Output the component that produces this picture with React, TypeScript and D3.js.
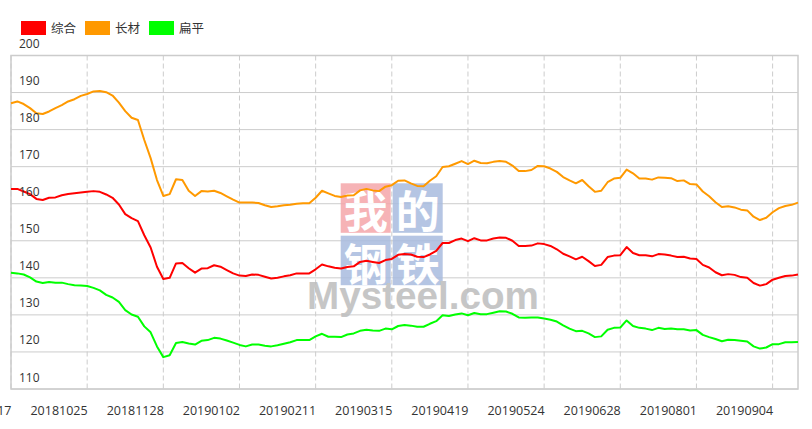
import { useEffect, useRef } from "react";
import * as d3 from "d3";

// x tick labels, one every 24 trading days
const dateLabels = [
  "20180917", "20181025", "20181128", "20190102", "20190211", "20190315",
  "20190419", "20190524", "20190628", "20190801", "20190904",
];

const seriesNames = ["综合", "长材", "扁平"];
const seriesColors = ["#ff0000", "#ff9900", "#00ff00"];

// values read every 2nd trading day
const zongheValues = [
  164, 164, 163.3, 162.6, 161.3, 161, 161.6, 161.7, 162.3, 162.6,
  162.8, 163, 163.2, 163.4, 163.2, 162.5, 161.6, 159.8, 157.2, 156.1,
  155.3, 151.5, 148.2, 143, 139.7, 140, 143.9, 144, 142.6, 141.4,
  142.5, 142.6, 143.4, 143, 142.1, 141.2, 140.6, 140.5, 140.9, 140.8,
  140.3, 139.8, 140, 140.4, 140.7, 141.2, 141.2, 141.2, 142.3, 143.6,
  143.1, 142.7, 142.5, 142.9, 143.1, 144.3, 144.6, 144.3, 144, 144.8,
  145.1, 146.2, 146.4, 146.3, 145.7, 145.6, 146.3, 147.3, 149.4, 149.4,
  150.2, 150.6, 149.9, 150.7, 150.1, 150.1, 150.6, 150.9, 150.8, 150,
  148.6, 148.6, 148.7, 149.3, 149.1, 148.6, 147.7, 146.5, 145.8, 145,
  145.7, 144.5, 143.2, 143.5, 145.6, 146, 146.1, 148.3, 146.7, 146.1,
  146.1, 145.8, 146.4, 146.3, 146, 145.6, 145.7, 145.2, 145.1, 143.5,
  142.8, 141.5, 140.7, 141, 140.8, 140.2, 140, 138.6, 137.9, 138.3,
  139.5, 140, 140.5, 140.6, 140.9,
];

const changcaiValues = [
  187.1, 187.6, 186.9, 185.8, 184.4, 184.2, 184.9, 185.8, 186.6, 187.6,
  188.2, 189.1, 189.6, 190.3, 190.4, 190.1, 189.2, 187.3, 185, 183.2,
  182.6, 177.2, 172.3, 166.4, 162.1, 162.6, 166.6, 166.4, 163.5, 162.1,
  163.4, 163.3, 163.5, 162.9, 162, 161.1, 160.3, 160.3, 160.3, 160.2,
  159.6, 159.1, 159.3, 159.6, 159.7, 160, 160.1, 160.1, 161.6, 163.5,
  162.8, 162.1, 161.8, 162.2, 162.3, 163.6, 164, 163.6, 163.4, 164.6,
  165, 166.2, 166.3, 165.5, 164.8, 164.7, 166.2, 167.4, 169.9, 170.1,
  170.8, 171.5, 170.7, 171.6, 171, 170.9, 171.3, 171.5, 171.3, 170.3,
  168.8, 168.8, 169.1, 170.2, 170.1, 169.5, 168.6, 167.2, 166.3, 165.5,
  166.4, 164.7, 163.2, 163.5, 165.8, 166.8, 167, 169.2, 168.2, 166.8,
  166.8, 166.5, 167.1, 167, 166.9, 166.1, 166.3, 165.3, 165.2, 163.3,
  162, 160.4, 159.1, 159.3, 159, 158.4, 158.2, 156.5, 155.6, 156.2,
  157.7, 158.8, 159.4, 159.7, 160.3,
];

const bianpingValues = [
  141.4, 141.2, 140.9, 140.1, 139, 138.6, 138.9, 138.7, 138.7, 138.3,
  138, 137.9, 137.8, 137.3, 136.6, 135.4, 134.7, 133.5, 131.3, 130.1,
  129.5, 126.9, 125.3, 121.5, 118.6, 119.1, 122.4, 122.7, 122.3, 122,
  123, 123.2, 123.8, 123.6, 123.1, 122.5, 121.9, 121.5, 122, 122,
  121.7, 121.5, 121.8, 122.2, 122.6, 123.2, 123.2, 123.2, 124.2, 124.9,
  124.1, 124.1, 124, 124.7, 125, 125.7, 126, 125.8, 125.7, 126.3,
  126.1, 127, 127.3, 127.1, 126.8, 126.8, 127.6, 128.3, 129.9, 129.7,
  130.1, 130.4, 129.9, 130.5, 130.2, 130.2, 130.6, 131, 130.9, 130.3,
  129.3, 129.2, 129.3, 129.3, 129, 128.7, 128.2, 127.2, 126.3, 125.6,
  125.7, 125, 124, 124.2, 126, 126.5, 126.6, 128.5, 127, 126.5,
  126.3, 125.9, 126.5, 126.2, 126.3, 126.1, 126.1, 125.8, 125.9, 124.6,
  124, 123.5, 122.9, 123.3, 123.2, 123, 122.8, 121.5, 120.9, 121.2,
  122.1, 122.1, 122.6, 122.6, 122.7,
];

const yTicks = [110, 120, 130, 140, 150, 160, 170, 180, 190, 200];

const FONT = "'Open Sans', 'Noto Sans CJK SC', sans-serif";

const SteelIndexChart = () => {
  const svgRef = useRef<SVGSVGElement>(null);

  useEffect(() => {
    if (!svgRef.current) return;
    const svg = d3.select(svgRef.current);
    svg.selectAll("*").remove();

    const width = 812;
    const height = 429;
    const plot = { left: 11, right: 798, top: 55.5, bottom: 389 };
    const stride = 2; // trading days between stored values
    const tickEvery = 24;
    const lastIndex = (zongheValues.length - 1) * stride;

    svg.attr("width", width).attr("height", height);

    const x = d3.scaleLinear().domain([0, lastIndex]).range([plot.left, plot.right]);
    const y = d3.scaleLinear().domain([110, 200]).range([plot.bottom, plot.top]);

    // horizontal grid
    svg
      .append("g")
      .selectAll("line")
      .data(yTicks.slice(0, -1))
      .join("line")
      .attr("x1", plot.left)
      .attr("x2", plot.right)
      .attr("y1", (d) => y(d))
      .attr("y2", (d) => y(d))
      .attr("stroke", "#cccccc")
      .attr("stroke-width", 1);

    // vertical dashed grid
    svg
      .append("g")
      .selectAll("line")
      .data(dateLabels)
      .join("line")
      .attr("x1", (_, i) => x(i * tickEvery))
      .attr("x2", (_, i) => x(i * tickEvery))
      .attr("y1", plot.top)
      .attr("y2", plot.bottom)
      .attr("stroke", "#cccccc")
      .attr("stroke-dasharray", "5,3");

    // plot border
    svg
      .append("rect")
      .attr("x", plot.left)
      .attr("y", plot.top)
      .attr("width", plot.right - plot.left)
      .attr("height", plot.bottom - plot.top)
      .attr("fill", "none")
      .attr("stroke", "#cccccc")
      .attr("stroke-width", 1.5);

    // watermark
    const wm = svg.append("g").attr("opacity", 0.85);
    const boxes = [
      { ch: "我", bx: 340.7, by: 183.3, fill: "#f5a6aa" },
      { ch: "的", bx: 392.7, by: 183.3, fill: "#a9bcdf" },
      { ch: "钢", bx: 340.7, by: 235.7, fill: "#a9bcdf" },
      { ch: "铁", bx: 392.7, by: 235.7, fill: "#a9bcdf" },
    ];
    boxes.forEach((b) => {
      wm.append("rect")
        .attr("x", b.bx)
        .attr("y", b.by)
        .attr("width", 50)
        .attr("height", 49.5)
        .attr("fill", b.fill);
      wm.append("text")
        .attr("x", b.bx + 25)
        .attr("y", b.by + 26)
        .attr("text-anchor", "middle")
        .attr("dominant-baseline", "central")
        .attr("font-family", "'Noto Sans CJK SC', sans-serif")
        .attr("font-weight", "bold")
        .attr("font-size", 44)
        .attr("fill", "#ffffff")
        .text(b.ch);
    });
    wm.append("text")
      .attr("x", 307)
      .attr("y", 308.5)
      .attr("font-family", "'Liberation Sans', Arial, sans-serif")
      .attr("font-weight", "bold")
      .attr("font-size", 39)
      .attr("textLength", 232)
      .attr("lengthAdjust", "spacingAndGlyphs")
      .attr("fill", "#bdbdbd")
      .text("Mysteel.com");

    // lines
    const allSeries = [zongheValues, changcaiValues, bianpingValues];
    const line = d3
      .line<number>()
      .x((_, i) => x(i * stride))
      .y((d) => y(d));
    svg
      .append("g")
      .selectAll("path")
      .data(allSeries)
      .join("path")
      .attr("d", (d) => line(d))
      .attr("fill", "none")
      .attr("stroke", (_, i) => seriesColors[i])
      .attr("stroke-width", 2)
      .attr("stroke-linejoin", "round");

    // y labels sit inside the plot, just above their gridline
    svg
      .append("g")
      .selectAll("text")
      .data(yTicks)
      .join("text")
      .attr("x", 19)
      .attr("y", (d) => y(d) - 7.5)
      .attr("font-family", FONT)
      .attr("font-size", 12)
      .attr("fill", "#333333")
      .text((d) => d);

    // x labels, right-aligned at each tick
    svg
      .append("g")
      .selectAll("text")
      .data(dateLabels)
      .join("text")
      .attr("x", (_, i) => x(i * tickEvery) + 0.5)
      .attr("y", 415)
      .attr("text-anchor", "end")
      .attr("font-family", FONT)
      .attr("font-size", 12.5)
      .attr("fill", "#333333")
      .text((d) => d);

    // legend
    const legend = svg
      .append("g")
      .selectAll("g")
      .data(seriesNames)
      .join("g")
      .attr("transform", (_, i) => `translate(${21 + i * 64},21)`);
    legend
      .append("rect")
      .attr("width", 25)
      .attr("height", 14)
      .attr("fill", (_, i) => seriesColors[i]);
    legend
      .append("text")
      .attr("x", 30)
      .attr("y", 7)
      .attr("dominant-baseline", "central")
      .attr("font-family", FONT)
      .attr("font-size", 12.5)
      .attr("fill", "#333333")
      .text((d) => d);
  }, []);

  return (
    <svg
      ref={svgRef}
      style={{ position: "absolute", left: 0, top: 0, display: "block" }}
    ></svg>
  );
};

export default function App() {
  return <SteelIndexChart />;
}
